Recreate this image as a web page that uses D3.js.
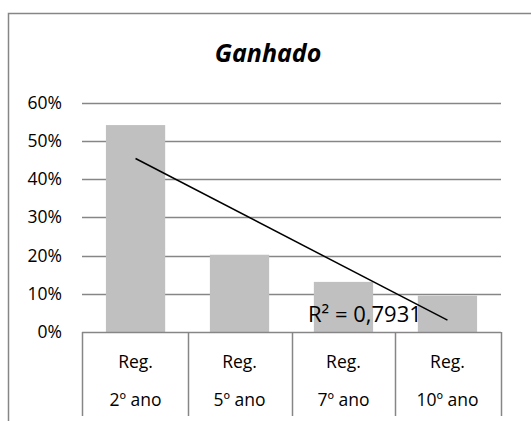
<!DOCTYPE html>
<html>
<head>
<meta charset="utf-8">
<script src="https://cdn.jsdelivr.net/npm/d3@7"></script>
<style>
  body { margin: 0; background: #fff; }
  svg { display: block; font-family: "Open Sans", "Noto Sans", sans-serif; }
</style>
</head>
<body>
<div id="chart"></div>
<script>
// chart data
const categories = ["Reg. 2º ano", "Reg. 5º ano", "Reg. 7º ano", "Reg. 10º ano"];
const values = [0.541, 0.202, 0.131, 0.095];
const yTicks = [0, 0.1, 0.2, 0.3, 0.4, 0.5, 0.6];
const title = "Ganhado";
const r2Label = "R² = 0,7931";

const W = 531, H = 421;
const plot = { left: 82, right: 501, top: 102.5, bottom: 332 };

const svg = d3.select("#chart").append("svg")
  .attr("width", W)
  .attr("height", H);

// outer chart border (cut off at right/bottom in the picture)
svg.append("path")
  .attr("d", `M8.5,${H} V13.5 H${W}`)
  .attr("fill", "none")
  .attr("stroke", "#868686")
  .attr("stroke-width", 1.5);

svg.append("text")
  .attr("x", 268)
  .attr("y", 62)
  .attr("text-anchor", "middle")
  .style("font-size", "25px")
  .style("font-weight", "700")
  .style("font-style", "italic")
  .text(title);

const x = d3.scaleBand()
  .domain(categories)
  .range([plot.left, plot.right])
  .paddingInner(0.43)
  .paddingOuter(0.23);

const y = d3.scaleLinear()
  .domain([0, 0.6])
  .range([plot.bottom, plot.top]);

// gridlines
svg.append("g")
  .selectAll("line")
  .data(yTicks.filter(d => d > 0))
  .join("line")
  .attr("x1", plot.left)
  .attr("x2", plot.right)
  .attr("y1", d => Math.round(y(d)) + 0.5)
  .attr("y2", d => Math.round(y(d)) + 0.5)
  .attr("stroke", "#868686")
  .attr("stroke-width", 1.3);

// y labels
svg.append("g")
  .selectAll("text")
  .data(yTicks)
  .join("text")
  .attr("x", 62)
  .attr("y", d => y(d))
  .attr("dy", "0.35em")
  .attr("text-anchor", "end")
  .style("font-size", "17.5px")
  .text(d => d3.format(".0%")(d));

// bars
svg.append("g")
  .selectAll("rect")
  .data(values)
  .join("rect")
  .attr("x", (d, i) => x(categories[i]))
  .attr("width", x.bandwidth())
  .attr("y", d => y(d))
  .attr("height", d => y(0) - y(d))
  .attr("fill", "#c0c0c0");

// linear trend line (least squares on category index)
const n = values.length;
const xs = d3.range(1, n + 1);
const mx = d3.mean(xs), my = d3.mean(values);
const slope = d3.sum(xs, (v, i) => (v - mx) * (values[i] - my)) / d3.sum(xs, v => (v - mx) ** 2);
const icpt = my - slope * mx;
const cx = i => x(categories[i]) + x.bandwidth() / 2;

svg.append("line")
  .attr("x1", cx(0))
  .attr("y1", y(icpt + slope * 1))
  .attr("x2", cx(n - 1))
  .attr("y2", y(icpt + slope * n))
  .attr("stroke", "#000")
  .attr("stroke-width", 1.5);

svg.append("text")
  .attr("x", 308)
  .attr("y", 322)
  .style("font-size", "22px")
  .text(r2Label);

// category axis, drawn as a table of cells
const ax = svg.append("g");
ax.append("line")
  .attr("x1", plot.left).attr("x2", plot.right)
  .attr("y1", plot.bottom + 0.5).attr("y2", plot.bottom + 0.5)
  .attr("stroke", "#868686").attr("stroke-width", 1.5);

const edges = categories.map(c => x(c) - x.step() * x.paddingInner() / 2)
  .concat([plot.right]);
edges[0] = plot.left;
ax.selectAll("line.sep")
  .data(edges)
  .join("line")
  .attr("class", "sep")
  .attr("x1", d => Math.round(d) + 0.5)
  .attr("x2", d => Math.round(d) + 0.5)
  .attr("y1", plot.bottom)
  .attr("y2", 416)
  .attr("stroke", "#868686")
  .attr("stroke-width", 1.5);

const lbl = ax.selectAll("text.cat")
  .data(categories)
  .join("text")
  .attr("class", "cat")
  .attr("text-anchor", "middle")
  .style("font-size", "17.5px");
lbl.append("tspan")
  .attr("x", d => x(d) + x.bandwidth() / 2)
  .attr("y", 368)
  .text(d => d.split(" ")[0]);
lbl.append("tspan")
  .attr("x", d => x(d) + x.bandwidth() / 2)
  .attr("y", 406)
  .text(d => d.split(" ").slice(1).join(" "));
</script>
</body>
</html>
